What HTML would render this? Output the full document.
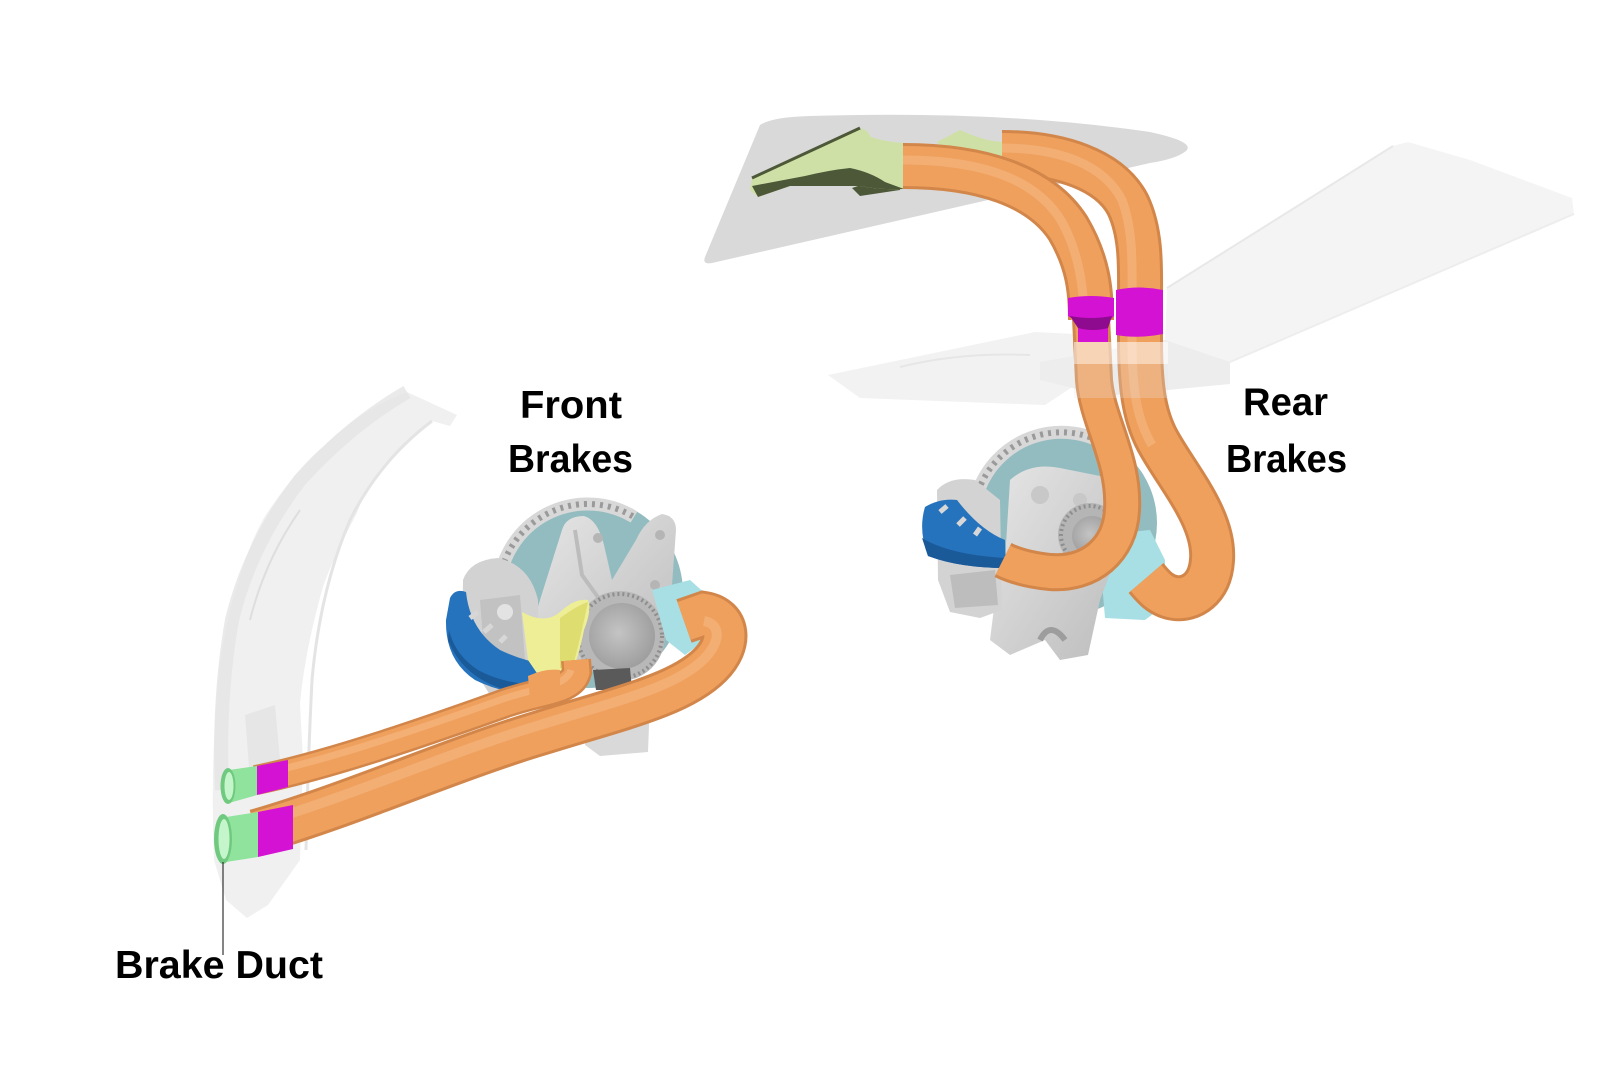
<!DOCTYPE html>
<html>
<head>
<meta charset="utf-8">
<style>
html,body{margin:0;padding:0;background:#fff;}
svg{display:block;}
text{font-family:"Liberation Sans",Arial,sans-serif;font-weight:bold;fill:#000;}
</style>
</head>
<body>
<svg width="1600" height="1066" viewBox="0 0 1600 1066" xmlns="http://www.w3.org/2000/svg">
<defs>
  <radialGradient id="hubg" cx="0.45" cy="0.45" r="0.6">
    <stop offset="0" stop-color="#c4c4c4"/>
    <stop offset="1" stop-color="#9c9c9c"/>
  </radialGradient>
  <linearGradient id="greyg" x1="0" y1="0" x2="1" y2="1">
    <stop offset="0" stop-color="#e6e6e6"/>
    <stop offset="1" stop-color="#bdbdbd"/>
  </linearGradient>
</defs>

<!-- ================= REAR BACKGROUND PANELS ================= -->
<path d="M760,125 Q772,117 810,116 Q1000,110 1150,132 Q1196,142 1186,151 Q1176,159 1150,163 L712,263 Q702,265 705,257 Z" fill="#d9d9d9"/>
<path d="M1393,146 L1408,142 L1470,160 L1572,198 L1574,214 L1230,362 L1165,343 L1167,288 Z" fill="#f4f4f4"/>
<path d="M1393,146 L1167,288" stroke="#e8e8e8" stroke-width="2" fill="none"/>
<path d="M1230,362 L1574,214" stroke="#ededed" stroke-width="2" fill="none"/>
<path d="M828,375 L1035,332 L1095,335 L1095,372 L1045,405 L860,398 Z" fill="#f2f2f2"/>
<path d="M900,367 Q960,352 1030,355" stroke="#e6e6e6" stroke-width="2" fill="none"/>
<path d="M1040,362 L1165,340 L1230,362 L1230,384 L1105,396 L1040,380 Z" fill="#ededed"/>

<!-- ================= FRONT FENDER ================= -->
<path d="M407,392 L457,415 L450,426 L432,421 L407,442 Q372,470 357,513 Q332,560 323,587 Q305,650 300,703 L303,760 L300,860 L268,905 L247,918 L226,900 L214,860 Q210,760 219,670 Q228,610 237,587 Q250,540 267,513 Q300,465 323,447 Q360,410 407,392 Z" fill="#f0f0f0"/>
<path d="M407,392 Q350,425 300,480 Q250,545 232,620 Q218,700 222,790" stroke="#e5e5e5" stroke-width="14" fill="none" opacity="0.8"/>
<path d="M432,421 Q380,460 350,520 Q320,590 312,680 Q308,760 306,850" stroke="#e4e4e4" stroke-width="3" fill="none"/>
<path d="M250,620 Q265,560 300,510" stroke="#dedede" stroke-width="2" fill="none"/>
<path d="M245,715 L275,705 L280,760 L250,780 Z" fill="#e6e6e6"/>

<!-- ================= FRONT BRAKE ================= -->
<circle cx="588" cy="593" r="95" fill="#93bcc0"/>
<path d="M499,585 A89,89 0 0 1 634,517" stroke="#d8d8d8" stroke-width="13" fill="none"/>
<path d="M499,585 A89,89 0 0 1 634,517" stroke="#9a9a9a" stroke-width="6" stroke-dasharray="3 5" fill="none"/>
<path d="M562,530 Q566,516 584,516 Q598,520 604,545 L612,580 L636,540 Q645,520 662,514 Q676,516 676,530 L672,585 Q668,615 650,630 L620,660 L560,668 L528,640 L540,600 Z" fill="url(#greyg)"/>
<path d="M575,530 L582,575 L600,600" stroke="#bcbcbc" stroke-width="4" fill="none"/>
<circle cx="598" cy="538" r="5" fill="#b5b5b5"/>
<circle cx="660" cy="535" r="5" fill="#b5b5b5"/>
<circle cx="655" cy="585" r="5" fill="#b5b5b5"/>
<path d="M463,580 Q470,560 498,558 Q530,565 538,600 L540,690 L490,695 L462,650 Z" fill="#d2d2d2"/>
<path d="M480,600 L520,595 L525,660 L485,665 Z" fill="#c2c2c2"/>
<circle cx="505" cy="612" r="8" fill="#e3e3e3"/>
<circle cx="620" cy="636" r="45" fill="#b8b8b8"/>
<circle cx="620" cy="636" r="42" fill="none" stroke="#8e8e8e" stroke-width="4" stroke-dasharray="2 3"/>
<circle cx="622" cy="636" r="33" fill="url(#hubg)"/>
<path d="M593,670 L630,668 L632,690 L596,690 Z" fill="#5a5a5a"/>
<path d="M585,705 L650,700 L648,752 L600,756 L585,745 Z" fill="#d9d9d9"/>
<path d="M450,598 Q455,588 466,592 Q470,630 500,650 Q525,662 548,664 L545,695 Q505,695 475,680 Q445,660 446,620 Z" fill="#2673bd"/>
<path d="M448,640 Q462,675 500,688 Q525,694 545,695 L546,685 Q505,685 478,670 Q455,655 449,630 Z" fill="#1b5a99"/>
<path d="M470,618 L478,612 M484,632 L492,625 M500,642 L506,636" stroke="#d7d7d7" stroke-width="5"/>
<path d="M522,612 Q545,625 560,612 Q575,598 588,600 Q592,610 584,630 Q578,660 570,675 L545,685 L528,660 Z" fill="#eeee96"/>
<path d="M560,618 Q578,605 588,602 Q580,640 572,670 L560,668 Z" fill="#dede70"/>
<path d="M652,590 L690,580 L708,596 L705,640 L685,655 L666,640 Z" fill="#a8dfe4"/>

<!-- front small hose -->
<g fill="none" stroke-linecap="butt">
  <path d="M256,780 C330,765 430,730 500,705 C540,690 572,692 577,672 L576,660" stroke="#d2864a" stroke-width="30"/>
  <path d="M256,780 C330,765 430,730 500,705 C540,690 572,692 577,672 L576,660" stroke="#efa05d" stroke-width="25"/>
  <path d="M256,775 C330,760 430,725 500,700 C536,687 566,687 571,670" stroke="#f6b984" stroke-width="7" opacity="0.6"/>
</g>
<path d="M528,676 Q545,668 560,670 L560,695 Q542,697 530,700 Z" fill="#efa05d"/>
<!-- front big hose -->
<g fill="none" stroke-linecap="butt">
  <path d="M256,832 C350,805 450,760 540,733 C620,708 680,695 710,665 C732,643 728,618 704,614 L684,621" stroke="#d2864a" stroke-width="46"/>
  <path d="M256,832 C350,805 450,760 540,733 C620,708 680,695 710,665 C732,643 728,618 704,614 L684,621" stroke="#efa05d" stroke-width="40"/>
  <path d="M256,824 C350,797 450,752 540,725 C620,700 676,687 704,659 C722,640 720,624 704,621" stroke="#f6ba86" stroke-width="10" opacity="0.55"/>
</g>

<!-- front duct ends -->
<path d="M257,766 L288,760 L288,787 L257,795 Z" fill="#d312d3"/>
<path d="M229,770 L257,766 L257,795 L229,803 Z" fill="#8fe39c"/>
<ellipse cx="228" cy="786" rx="7.5" ry="18" fill="#6fc97e"/>
<ellipse cx="229" cy="786" rx="4.5" ry="14" fill="#c4f5cb"/>
<path d="M258,812 L293,805 L293,849 L258,857 Z" fill="#d312d3"/>
<path d="M226,817 L258,812 L258,857 L226,862 Z" fill="#8fe39c"/>
<ellipse cx="223" cy="839" rx="9" ry="25" fill="#6fc97e"/>
<ellipse cx="224" cy="839" rx="5.5" ry="20" fill="#c4f5cb"/>

<line x1="223" y1="862" x2="223" y2="955" stroke="#333" stroke-width="1.2"/>

<!-- ================= REAR BRAKE ================= -->
<circle cx="1065" cy="523" r="92" fill="#93bcc0"/>
<path d="M978,492 A88,88 0 0 1 1110,447" stroke="#d8d8d8" stroke-width="13" fill="none"/>
<path d="M978,492 A88,88 0 0 1 1110,447" stroke="#9a9a9a" stroke-width="6" stroke-dasharray="3 5" fill="none"/>
<path d="M1098,535 L1150,530 L1165,560 L1165,605 L1145,620 L1105,618 Z" fill="#a8dfe4"/>
<path d="M1010,480 Q1030,462 1060,468 L1110,478 L1115,560 L1100,600 L1088,655 L1060,660 L1045,640 L1010,655 L990,640 L995,600 L1005,560 Z" fill="url(#greyg)"/>
<circle cx="1040" cy="495" r="9" fill="#c8c8c8"/>
<circle cx="1080" cy="500" r="7" fill="#c8c8c8"/>
<path d="M1040,640 Q1050,620 1065,640" stroke="#9d9d9d" stroke-width="6" fill="none"/>
<circle cx="1090" cy="535" r="32" fill="#b5b5b5"/>
<circle cx="1090" cy="535" r="29" fill="none" stroke="#8e8e8e" stroke-width="4" stroke-dasharray="2 3"/>
<circle cx="1092" cy="536" r="20" fill="url(#hubg)"/>
<path d="M937,490 Q950,476 975,480 L1000,500 L1002,610 L980,618 L950,612 L938,580 Z" fill="#d3d3d3"/>
<path d="M950,575 L995,570 L998,605 L955,608 Z" fill="#bdbdbd"/>
<path d="M925,507 Q940,498 957,500 Q980,530 1005,540 L1006,568 Q960,568 928,556 Q918,530 925,507 Z" fill="#2673bd"/>
<path d="M922,538 Q950,555 1006,558 L1006,568 Q960,568 928,556 Z" fill="#1b5a99"/>
<path d="M940,512 L947,506 M958,525 L965,518 M975,535 L980,528" stroke="#d7d7d7" stroke-width="5"/>

<!-- green intake pieces -->
<path d="M937,142 L960,130 L967,133 Q985,141 1003,142 L1003,164 Q975,166 955,160 Z" fill="#cfe0a6"/>
<path d="M852,188 L900,172 L900,190 L860,196 Z" fill="#4d5838"/>
<path d="M750,190 L752,178 L860,128 L867,131 L871,137 Q886,142 904,143 L904,189 Q880,190 860,186 L790,186 L758,197 Z" fill="#cfe0a6"/>
<path d="M752,186 L805,176 Q830,170 850,168 Q870,172 885,182 L904,189 Q880,190 860,186 L790,186 L758,197 Z" fill="#4d5838"/>
<path d="M752,178 L860,128" stroke="#4d5838" stroke-width="3"/>

<!-- rear hose B -->
<g fill="none" stroke-linecap="butt">
  <path d="M1002,153 C1060,153 1110,170 1128,205 C1142,235 1140,270 1140,300 L1140,340 C1140,390 1145,420 1160,445 C1180,480 1215,520 1212,560 C1210,590 1190,600 1175,598 C1160,596 1152,585 1146,578" stroke="#d2864a" stroke-width="46"/>
  <path d="M1002,153 C1060,153 1110,170 1128,205 C1142,235 1140,270 1140,300 L1140,340 C1140,390 1145,420 1160,445 C1180,480 1215,520 1212,560 C1210,590 1190,600 1175,598 C1160,596 1152,585 1146,578" stroke="#efa05d" stroke-width="40"/>
  <path d="M1002,148 C1060,148 1104,165 1122,200 C1134,232 1132,270 1132,300 L1132,340 C1132,390 1137,420 1152,445" stroke="#f6ba86" stroke-width="9" opacity="0.55"/>
</g>
<!-- rear hose A -->
<g fill="none" stroke-linecap="butt">
  <path d="M903,166 C980,166 1040,185 1068,228 C1088,262 1091,290 1091,320" stroke="#d2864a" stroke-width="46"/>
  <path d="M903,166 C980,166 1040,185 1068,228 C1088,262 1091,290 1091,320" stroke="#efa05d" stroke-width="40"/>
  <path d="M1091,318 L1094,380 C1097,420 1125,460 1122,510 C1120,550 1090,575 1050,572 C1030,570 1015,566 1003,560" stroke="#d2864a" stroke-width="38"/>
  <path d="M1091,318 L1094,380 C1097,420 1125,460 1122,510 C1120,550 1090,575 1050,572 C1030,570 1015,566 1003,560" stroke="#efa05d" stroke-width="32"/>
  <path d="M903,160 C980,160 1036,178 1062,222 C1080,255 1084,290 1084,320" stroke="#f6ba86" stroke-width="9" opacity="0.55"/>
</g>

<!-- rear magenta -->
<path d="M1068,298 Q1091,294 1114,298 L1114,316 L1108,322 L1108,342 L1078,342 L1078,322 L1068,316 Z" fill="#d312d3"/>
<path d="M1070,316 Q1091,320 1112,316 L1108,328 Q1093,332 1078,328 Z" fill="#8e0a8e"/>
<path d="M1116,290 Q1139,285 1163,290 L1163,334 Q1139,339 1116,335 Z" fill="#d312d3"/>

<rect x="1074" y="342" width="94" height="22" fill="#ffffff" opacity="0.55"/>
<rect x="1074" y="364" width="94" height="34" fill="#e8e8e8" opacity="0.25"/>

<!-- ================= LABELS ================= -->
<text x="520" y="418" font-size="39" textLength="102" lengthAdjust="spacingAndGlyphs">Front</text>
<text x="508" y="472" font-size="39" textLength="125" lengthAdjust="spacingAndGlyphs">Brakes</text>
<text x="1243" y="415" font-size="39" textLength="85" lengthAdjust="spacingAndGlyphs">Rear</text>
<text x="1226" y="472" font-size="39" textLength="121" lengthAdjust="spacingAndGlyphs">Brakes</text>
<text x="115" y="978" font-size="39" textLength="208" lengthAdjust="spacingAndGlyphs">Brake Duct</text>
</svg>
</body>
</html>
